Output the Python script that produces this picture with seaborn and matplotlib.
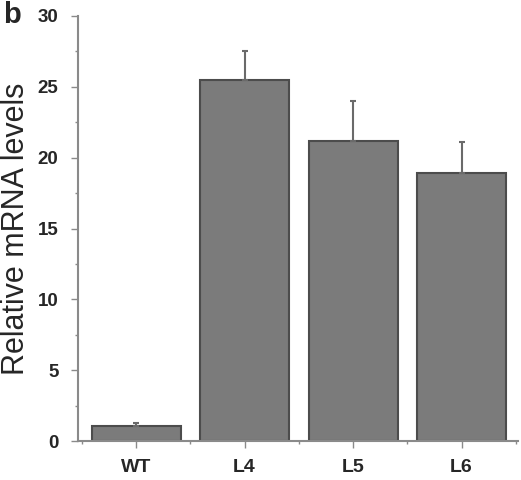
import numpy as np
import pandas as pd
import matplotlib
matplotlib.use('Agg')
import matplotlib.pyplot as plt
import seaborn as sns
from matplotlib.ticker import MultipleLocator

# data
groups = ['WT', 'L4', 'L5', 'L6']
means = [1.05, 25.5, 21.2, 18.9]
errs = [0.2, 2.0, 2.8, 2.2]

sns.set_theme(style='white')
plt.rcParams['font.family'] = ['Liberation Sans', 'DejaVu Sans']

df = pd.DataFrame({'group': groups, 'level': means})

fig = plt.figure(figsize=(5.21, 4.8), dpi=100)
ax = fig.add_axes([78 / 521, 1 - 441 / 480, 440 / 521, 425 / 480])

sns.barplot(data=df, x='group', y='level', color='#7b7b7b', width=0.82,
            edgecolor='#4c4c4c', linewidth=1.5, errorbar=None, saturation=1, ax=ax)

xs = [p.get_x() + p.get_width() / 2 for p in ax.patches]
ax.errorbar(xs, means, yerr=[np.zeros(len(errs)), errs], fmt='none',
            ecolor='#6a6a6a', elinewidth=1.5, capsize=2, capthick=1.5)

ax.set_xlim(-0.535, 3.52)
ax.set_ylim(0, 30)
ax.yaxis.set_major_locator(MultipleLocator(5))
ax.yaxis.set_minor_locator(MultipleLocator(2.5))
ax.xaxis.set_minor_locator(MultipleLocator(0.5))

for s in ['top', 'right']:
    ax.spines[s].set_visible(False)
for s in ['left', 'bottom']:
    ax.spines[s].set_color('#8a8a8a')
    ax.spines[s].set_linewidth(1.5)

ax.tick_params(axis='both', which='both', direction='out', color='#8a8a8a')
ax.tick_params(axis='both', which='major', length=5, width=1, left=True, bottom=True)
ax.tick_params(axis='both', which='minor', length=2.5, width=1, left=True, bottom=True)
ax.tick_params(axis='y', labelsize=13.5, pad=9)
ax.tick_params(axis='x', labelsize=14, pad=8)
for lab in ax.get_xticklabels() + ax.get_yticklabels():
    lab.set_fontweight('bold')

ax.set_xlabel('')
ax.set_ylabel('Relative mRNA levels', fontsize=22)
ax.yaxis.set_label_coords(-0.107, 0.5)

fig.text(0.006, 0.998, 'b', fontsize=21, fontweight='bold', va='top', ha='left')

fig.savefig('out.png', dpi=100)
